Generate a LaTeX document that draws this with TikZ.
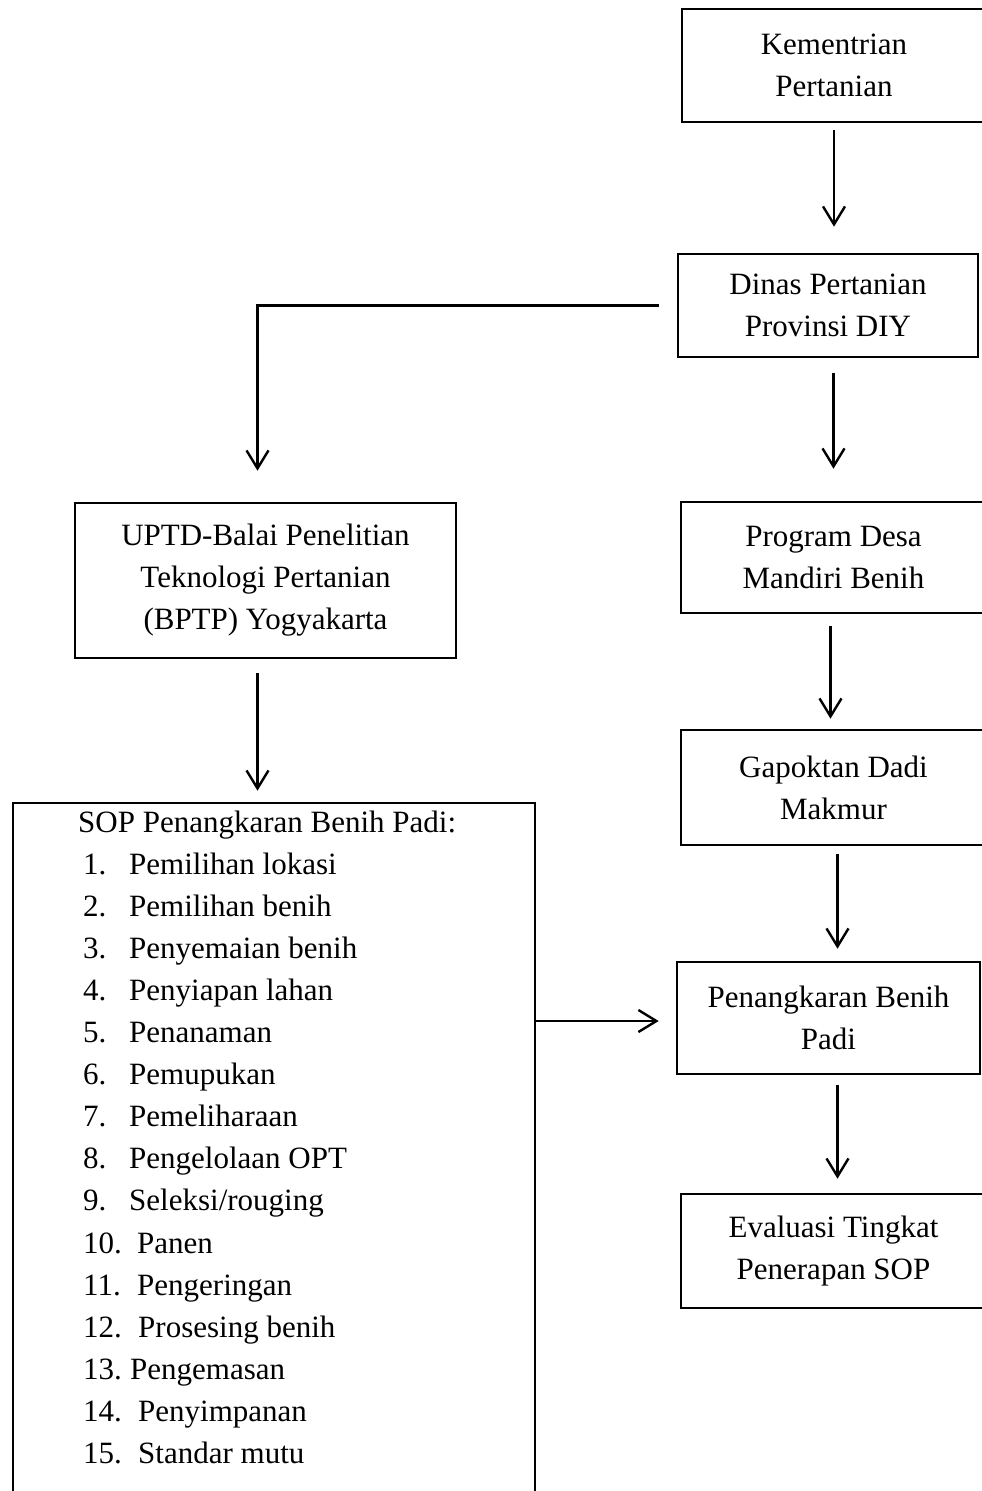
\documentclass[tikz,border=0pt]{standalone}
\usepackage{fontspec}
\setmainfont{Liberation Serif}
\usetikzlibrary{arrows.meta}
\tikzset{
  box/.style={draw, line width=2.6pt, align=center, inner sep=0pt, font=\fontsize{31}{42}\selectfont},
  arr/.style={line width=2.4pt, -{Straight Barb[length=18pt,width=22pt]}},
  item/.style={anchor=base west, inner sep=0pt, font=\fontsize{31}{42}\selectfont}
}
\begin{document}
\begin{tikzpicture}[x=1pt,y=-1pt]
\useasboundingbox (0,0) rectangle (982,1491);
\node[box, minimum width=304pt, minimum height=113pt] (kem) at (834,65.5) {Kementrian\\Pertanian};
\node[box, minimum width=300pt, minimum height=103pt] (din) at (828,305.5) {Dinas Pertanian\\Provinsi DIY};
\node[box, minimum width=381pt, minimum height=155pt] (upt) at (265.5,580.5) {UPTD-Balai Penelitian\\Teknologi Pertanian\\(BPTP) Yogyakarta};
\node[box, minimum width=305pt, minimum height=111pt] (pro) at (833.5,557.5) {Program Desa\\Mandiri Benih};
\node[box, minimum width=305pt, minimum height=115pt] (gap) at (833.5,787.5) {Gapoktan Dadi\\Makmur};
\node[box, minimum width=303pt, minimum height=112pt] (pen) at (828.5,1018) {Penangkaran Benih\\Padi};
\node[box, minimum width=305pt, minimum height=114pt] (eva) at (833.5,1251) {Evaluasi Tingkat\\Penerapan SOP};
\node[box, minimum width=522pt, minimum height=717pt] (sop) at (274,1161.5) {};
% isi SOP
\node[item] (judul) at (78,832) {SOP Penangkaran Benih Padi:};
\foreach \n/\t/\dx in {1/Pemilihan lokasi/129, 2/Pemilihan benih/129, 3/Penyemaian benih/129,
  4/Penyiapan lahan/129, 5/Penanaman/129, 6/Pemupukan/129, 7/Pemeliharaan/129,
  8/Pengelolaan OPT/129, 9/Seleksi\slash rouging/129, 10/Panen/137, 11/Pengeringan/137,
  12/Prosesing benih/138, 13/Pengemasan/130, 14/Penyimpanan/138, 15/Standar mutu/138}{
  \node[item] (num\n) at (83,{832+42.1*\n}) {\n.};
  \node[item] (isi\n) at (\dx,{832+42.1*\n}) {\t};
}
% panah
\draw[arr, shorten <=7pt, shorten >=26pt] (kem.south) -- (kem.south |- din.north);
\draw[arr, shorten <=15pt, shorten >=32pt] (pro.north |- din.south) -- (pro.north);
\draw[arr, shorten <=18pt, shorten >=31pt] (din.west) -| ([xshift=-8pt]upt.north);
\draw[arr, shorten <=14pt, shorten >=11pt] ([xshift=-8pt]upt.south) -- ([xshift=-8pt]upt.south |- sop.north);
\draw[arr, shorten <=12pt, shorten >=10pt] ([xshift=-3pt]pro.south) -- ([xshift=-3pt]pro.south |- gap.north);
\draw[arr, shorten <=8pt, shorten >=12pt] ([xshift=4pt]gap.south) -- ([xshift=4pt]gap.south |- pen.north);
\draw[arr, shorten >=17pt] ([yshift=-3pt]pen.west -| sop.east) -- ([yshift=-3pt]pen.west);
\draw[arr, shorten <=10pt, shorten >=14pt] ([xshift=9pt]pen.south) -- ([xshift=9pt]pen.south |- eva.north);
\end{tikzpicture}
\end{document}
